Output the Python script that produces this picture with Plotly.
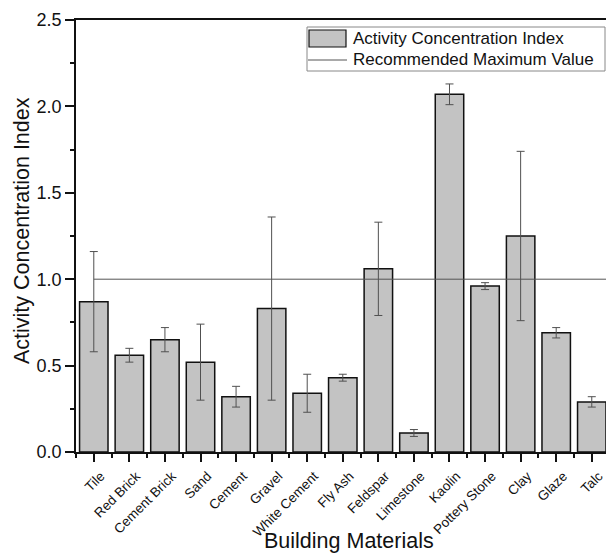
import plotly.graph_objects as go

categories = ["Tile", "Red Brick", "Cement Brick", "Sand", "Cement", "Gravel",
              "White Cement", "Fly Ash", "Feldspar", "Limestone", "Kaolin",
              "Pottery Stone", "Clay", "Glaze", "Talc"]
index_values = [0.87, 0.56, 0.65, 0.52, 0.32, 0.83, 0.34, 0.43, 1.06, 0.11,
                2.07, 0.96, 1.25, 0.69, 0.29]
index_errors = [0.29, 0.04, 0.07, 0.22, 0.06, 0.53, 0.11, 0.02, 0.27, 0.02,
                0.06, 0.02, 0.49, 0.03, 0.03]
recommended_max = 1.0
series_names = ["Activity Concentration Index", "Recommended Maximum Value"]

n = len(categories)
xs = list(range(n))
FONT = "Liberation Sans, Arial, sans-serif"
INK = "#111111"
BAR_FILL = "#c3c3c3"
REF_LINE = "#555555"

# plot area in pixels
L, R, T, B = 76, 606, 20, 452
W, H = R - L, B - T


def px(x):
    return (x - L) / W


def py(y):
    return (B - y) / H


fig = go.Figure()
fig.add_trace(go.Bar(
    x=xs, y=index_values, width=0.8,
    name=series_names[0], showlegend=False,
    marker=dict(color=BAR_FILL, line=dict(color=INK, width=1.5)),
    error_y=dict(type="data", array=index_errors, visible=True,
                 color="#505050", thickness=1, width=4),
))
fig.add_trace(go.Scatter(
    x=[0, n], y=[recommended_max, recommended_max], mode="lines",
    name=series_names[1], showlegend=False,
    line=dict(color=REF_LINE, width=1),
))

fig.update_layout(
    width=606, height=555,
    margin=dict(l=L, r=606 - R, t=T, b=555 - B),
    paper_bgcolor="white", plot_bgcolor="white",
    font=dict(family=FONT, color=INK),
    showlegend=False,
)

fig.update_xaxes(
    range=[-0.5, n - 0.6],
    tickmode="array", tickvals=xs, ticktext=categories,
    tickangle=-45, tickfont=dict(size=13.5, family=FONT, color=INK),
    ticks="outside", ticklen=8, tickwidth=1.5, tickcolor=INK,
    ticklabelstandoff=1, ticklabelshift=7,
    minor=dict(tick0=0.5, dtick=1, ticks="outside", ticklen=4,
               tickwidth=1.5, tickcolor=INK),
    showline=True, linecolor=INK, linewidth=1.8, mirror=True,
    showgrid=False, zeroline=False,
)
fig.update_yaxes(
    range=[0, 2.5], tickmode="linear", tick0=0, dtick=0.5, tickformat=".1f",
    tickfont=dict(size=18, family=FONT, color=INK),
    ticks="outside", ticklen=9, tickwidth=1.5, tickcolor=INK,
    minor=dict(tick0=0, dtick=0.25, ticks="outside", ticklen=4,
               tickwidth=1.5, tickcolor=INK),
    showline=True, linecolor=INK, linewidth=1.8, mirror=False,
    showgrid=False, zeroline=False,
)

# axis titles
fig.add_annotation(
    text="Activity Concentration Index", textangle=-90,
    xref="paper", yref="paper", x=px(22), y=py(231),
    xanchor="center", yanchor="middle", showarrow=False,
    font=dict(size=21.5, family=FONT, color=INK),
)
fig.add_annotation(
    text="Building Materials",
    xref="paper", yref="paper", x=px(349), y=py(555),
    xanchor="center", yanchor="bottom", showarrow=False,
    font=dict(size=21.5, family=FONT, color=INK),
)

# legend (drawn as a boxed key in the upper right)
fig.add_shape(type="rect", xref="paper", yref="paper",
              x0=px(307), x1=px(605), y0=py(27), y1=py(71),
              fillcolor="white", line=dict(color="#888888", width=1),
              layer="above")
fig.add_shape(type="rect", xref="paper", yref="paper",
              x0=px(309), x1=px(346), y0=py(30), y1=py(47),
              fillcolor=BAR_FILL, line=dict(color=INK, width=1.2),
              layer="above")
fig.add_shape(type="line", xref="paper", yref="paper",
              x0=px(308), x1=px(347), y0=py(60), y1=py(60),
              line=dict(color=REF_LINE, width=1), layer="above")
for name, yc in zip(series_names, [38.5, 60]):
    fig.add_annotation(
        text=name, xref="paper", yref="paper", x=px(351), y=py(yc),
        xanchor="left", yanchor="middle", showarrow=False,
        font=dict(size=17, family=FONT, color=INK),
    )

fig.write_html("out.html")
